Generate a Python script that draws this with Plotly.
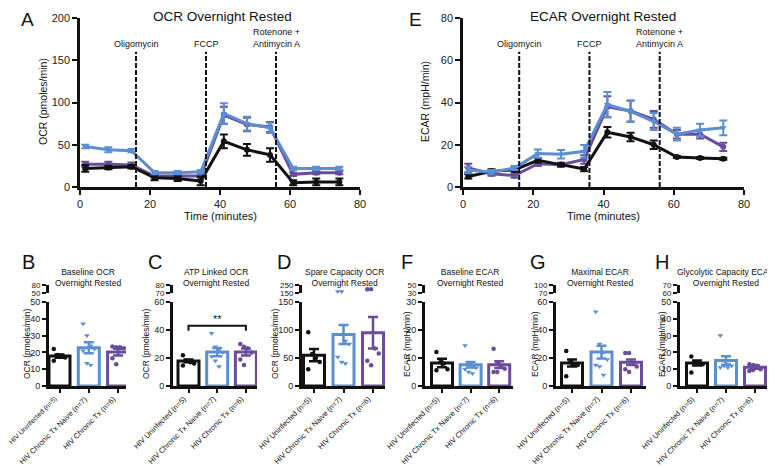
import plotly.graph_objects as go

# ---------------- data ----------------
groups = ["HIV Uninfected (n=5)", "HIV Chronic Tx Naive (n=7)", "HIV Chronic Tx (n=6)"]
group_colors = ["#111111", "#5b8fd3", "#6a4c9c"]
group_symbols = ["circle", "triangle-down", "circle"]

time_min = [1.5, 8.1, 14.7, 21.3, 27.9, 34.5, 41.1, 47.7, 54.3, 60.9, 67.5, 74.1]
injection_times = [16, 36, 56]
injection_labels = ["Oligomycin", "FCCP", "Rotenone +<br>Antimycin A"]

ocr_uninfected = [22, 23, 24, 11, 10, 7, 54, 44, 38, 5, 6, 6]
ocr_uninfected_sem = [4, 2, 2, 3, 3, 5, 8, 7, 8, 3, 4, 4]
ocr_naive = [48, 44, 43, 17, 17, 18, 87, 75, 70, 22, 22, 22]
ocr_naive_sem = [2, 3, 2, 2, 2, 2, 12, 8, 6, 2, 2, 2]
ocr_chronic = [27, 27, 26, 13, 13, 13, 85, 74, 71, 15, 17, 17]
ocr_chronic_sem = [3, 3, 3, 2, 2, 2, 10, 8, 6, 2, 2, 2]

ecar_uninfected = [5, 7.4, 8.2, 12.6, 10.6, 8.5, 25.9, 23.7, 20, 14.2, 13.7, 13.4]
ecar_uninfected_sem = [1, 1, 1, 1, 0.5, 1, 2.5, 2, 2, 0.5, 0.5, 0.5]
ecar_naive = [8, 7, 9, 15.8, 15.5, 16.9, 39, 35.8, 31, 25, 27, 28]
ecar_naive_sem = [1.5, 1, 1, 2, 2, 3, 6, 5, 4, 3, 3, 3.5]
ecar_chronic = [9, 6.3, 5.4, 11, 10.5, 13, 38, 36, 32, 25, 25, 19]
ecar_chronic_sem = [2, 1, 1, 1, 1, 2, 5, 5, 4, 2, 2, 2]

baseline_ocr_mean = [17.8, 22.8, 20.2]
baseline_ocr_sem = [1, 3.3, 2]
baseline_ocr_points = [[22, 18.5, 18, 17, 15], [37, 30, 24, 22, 21, 13.5, 12.5], [23.5, 23, 23, 22.5, 16.5, 13]]

atp_ocr_mean = [17.9, 24.2, 24.2]
atp_ocr_sem = [1, 3, 2.5]
atp_ocr_points = [[22, 18, 17, 16, 14.6], [37.6, 28, 26, 24, 21, 18, 14], [30, 28, 27, 24, 19, 15]]

spare_ocr_mean = [55, 92, 95]
spare_ocr_sem = [11, 17, 28]
spare_ocr_points = [[96, 57, 50, 43, 30], [168, 168, 81, 75, 52, 43, 40], [198, 198, 67, 58, 45, 37]]

baseline_ecar_mean = [8.2, 7.6, 7.6]
baseline_ecar_sem = [1.5, 1, 1.2]
baseline_ecar_points = [[12.1, 8.5, 8, 6, 5.6], [14.5, 8, 7, 6.5, 6, 5, 4.5], [13.3, 8, 7, 6.2, 5, 5]]

maximal_ecar_mean = [16.5, 24.2, 17]
maximal_ecar_sem = [2.5, 4.5, 2]
maximal_ecar_points = [[25, 17, 15, 15, 7], [53, 30, 24, 19, 15, 14, 7.8], [23.5, 23.5, 16, 14, 12, 10]]

glyco_ecar_mean = [13.7, 15.2, 11.2]
glyco_ecar_sem = [1.5, 2.5, 1]
glyco_ecar_points = [[17.5, 14, 13.5, 13, 8], [30, 15, 13, 12, 11, 12, 11], [13, 12.5, 12, 10, 9, 9.5]]

ticks_lower = {"B": [0, 10, 20, 30, 40, 50], "C": [0, 20, 40, 60], "D": [0, 50, 100, 150],
               "F": [0, 10, 20, 30], "G": [0, 20, 40, 60], "H": [0, 10, 20, 30, 40, 50]}
ticks_upper = {"B": [50, 80], "C": [70, 80], "D": [150, 250], "F": [30, 50], "G": [70, 100], "H": [60, 70]}

# ---------------- helpers ----------------
W, H = 775, 469
OFF = 8  # page body margin: figure is drawn 8px right/down in the window
FONT = "Arial, Liberation Sans, sans-serif"
INK = "#111111"


def fx(px):
    return (px - OFF) / W


def fy(py):
    return 1 - (py - OFF) / H


fig = go.Figure()
annotations = []
shapes = []
layout = dict(width=W, height=H, margin=dict(l=0, r=0, t=0, b=0, autoexpand=False),
              paper_bgcolor="white", plot_bgcolor="white", showlegend=False,
              barmode="overlay", font=dict(family=FONT, color=INK))


def text(x, y, s, size, xref="paper", yref="paper", xanchor="center", yanchor="middle", angle=0):
    annotations.append(dict(x=x, y=y, xref=xref, yref=yref, text=s, showarrow=False,
                            xanchor=xanchor, yanchor=yanchor, textangle=angle, borderpad=0,
                            font=dict(family=FONT, size=size, color=INK)))


def base_axis(**kw):
    d = dict(showgrid=False, zeroline=False, showline=True, linecolor=INK, ticks="outside",
             tickcolor=INK, automargin=False, tickfont=dict(family=FONT, size=11, color="#222"))
    d.update(kw)
    return d


# ---------------- top line panels ----------------
top_specs = [
    dict(letter="A", letter_px=(27, 8), title="OCR Overnight Rested", title_px=(222, 8.5),
         ytitle="OCR (pmoles/min)", ytitle_px=(43, 102), xpx=(80, 360), yrange=[0, 200], ydtick=50,
         series=[(ocr_chronic, ocr_chronic_sem, 2), (ocr_uninfected, ocr_uninfected_sem, 0),
                 (ocr_naive, ocr_naive_sem, 1)]),
    dict(letter="E", letter_px=(415, 8), title="ECAR Overnight Rested", title_px=(603, 8.5),
         ytitle="ECAR (mpH/min)", ytitle_px=(425, 102), xpx=(463, 744), yrange=[0, 80], ydtick=20,
         series=[(ecar_chronic, ecar_chronic_sem, 2), (ecar_uninfected, ecar_uninfected_sem, 0),
                 (ecar_naive, ecar_naive_sem, 1)]),
]

for i, sp in enumerate(top_specs):
    n = i + 1
    xk = "xaxis" if n == 1 else f"xaxis{n}"
    yk = "yaxis" if n == 1 else f"yaxis{n}"
    xr = "x" if n == 1 else f"x{n}"
    yr = "y" if n == 1 else f"y{n}"
    layout[xk] = base_axis(domain=[fx(sp["xpx"][0]), fx(sp["xpx"][1])], range=[0, 80], dtick=20,
                           anchor=yr, linewidth=2.5, ticklen=5, tickwidth=2)
    layout[yk] = base_axis(domain=[fy(187), fy(18)], range=sp["yrange"], dtick=sp["ydtick"],
                           anchor=xr, linewidth=2.5, ticklen=5, tickwidth=2)
    for vals, sem, g in sp["series"]:
        fig.add_trace(go.Scatter(
            x=time_min, y=vals, xaxis=xr, yaxis=yr, mode="lines+markers",
            line=dict(color=group_colors[g], width=3),
            marker=dict(color=group_colors[g], size=6, symbol=group_symbols[g]),
            error_y=dict(type="data", array=sem, color=group_colors[g], thickness=2, width=4)))
    for t, lab in zip(injection_times, injection_labels):
        shapes.append(dict(type="line", xref=xr, yref=f"{yr} domain", x0=t, x1=t, y0=0, y1=0.80,
                           line=dict(color=INK, width=2, dash="5px,2px")))
        text(t, 0.81, lab, 9, xref=xr, yref=f"{yr} domain", yanchor="bottom")
    text(fx(sp["title_px"][0]), fy(sp["title_px"][1]), sp["title"], 13.5, yanchor="top")
    text(fx(sp["letter_px"][0]), fy(sp["letter_px"][1]), sp["letter"], 19, yanchor="top")
    text(fx(sp["ytitle_px"][0]), fy(sp["ytitle_px"][1]), sp["ytitle"], 10.5, angle=-90)
    text(fx((sp["xpx"][0] + sp["xpx"][1]) / 2), fy(216), "Time (minutes)", 11)

# ---------------- bar panels ----------------
bar_specs = [
    dict(letter="B", title="Baseline OCR<br>Overnight Rested", ytitle="OCR (pmoles/min)",
         L=49, c0=59.5, sp=29.3, R=126, lower=[0, 50], upper=[50, 80], title_cx=88, ytitle_x=27,
         means=baseline_ocr_mean, sems=baseline_ocr_sem, points=baseline_ocr_points),
    dict(letter="C", title="ATP Linked OCR<br>Overnight Rested", ytitle="OCR (pmoles/min)",
         L=173, c0=188.5, sp=28.7, R=257, lower=[0, 60], upper=[70, 80], title_cx=216, ytitle_x=146,
         means=atp_ocr_mean, sems=atp_ocr_sem, points=atp_ocr_points),
    dict(letter="D", title="Spare Capacity OCR<br>Overnight Rested", ytitle="OCR (pmoles/min)",
         L=302, c0=314, sp=29.5, R=385, lower=[0, 150], upper=[150, 250], title_cx=344, ytitle_x=275,
         means=spare_ocr_mean, sems=spare_ocr_sem, points=spare_ocr_points),
    dict(letter="F", title="Baseline ECAR<br>Overnight Rested", ytitle="ECAR (mpH/min)",
         L=425, c0=442, sp=28.6, R=513, lower=[0, 30], upper=[30, 50], title_cx=470, ytitle_x=407,
         means=baseline_ecar_mean, sems=baseline_ecar_sem, points=baseline_ecar_points),
    dict(letter="G", title="Maximal ECAR<br>Overnight Rested", ytitle="ECAR (mpH/min)",
         L=556, c0=572, sp=29.5, R=646, lower=[0, 60], upper=[70, 100], title_cx=600, ytitle_x=535,
         means=maximal_ecar_mean, sems=maximal_ecar_sem, points=maximal_ecar_points),
    dict(letter="H", title="Glycolytic Capacity ECAR<br>Overnight Rested", ytitle="ECAR (mpH/min)",
         L=680, c0=697, sp=29, R=768, lower=[0, 50], upper=[60, 70], title_cx=726, ytitle_x=662,
         means=glyco_ecar_mean, sems=glyco_ecar_sem, points=glyco_ecar_points),
]

LOW_BOT, LOW_TOP, UP_BOT, UP_TOP = 386, 302, 293, 285

for k, sp in enumerate(bar_specs):
    xid, ylo, yup = 3 + k, 3 + k, 9 + k
    xr, ylr, yur = f"x{xid}", f"y{ylo}", f"y{yup}"
    r0 = -(sp["c0"] - sp["L"]) / sp["sp"]
    r1 = (sp["R"] - sp["c0"]) / sp["sp"]
    bw = 21 / sp["sp"]
    layout[f"xaxis{xid}"] = base_axis(domain=[fx(sp["L"]), fx(sp["R"])], range=[r0, r1],
                                      tickvals=[0, 1, 2], showticklabels=False,
                                      anchor=ylr, linewidth=3, ticklen=4, tickwidth=2)
    layout[f"yaxis{ylo}"] = base_axis(domain=[fy(LOW_BOT), fy(LOW_TOP)], range=sp["lower"],
                                      tickvals=ticks_lower[sp["letter"]],
                                      tickfont=dict(family=FONT, size=9, color="#222"),
                                      anchor=xr, linewidth=3, ticklen=4, tickwidth=2)
    layout[f"yaxis{yup}"] = base_axis(domain=[fy(UP_BOT), fy(UP_TOP)], range=sp["upper"],
                                      tickvals=ticks_upper[sp["letter"]],
                                      tickfont=dict(family=FONT, size=8, color="#222"),
                                      anchor=xr, linewidth=3, ticklen=4, tickwidth=2)
    # placeholder trace so the upper (broken) axis segment is drawn
    fig.add_trace(go.Scatter(x=[None], y=[None], xaxis=xr, yaxis=yur, mode="markers",
                             hoverinfo="skip"))
    for g in range(3):
        c = group_colors[g]
        fig.add_trace(go.Bar(x=[g], y=[sp["means"][g]], width=bw, xaxis=xr, yaxis=ylr,
                             marker=dict(color="white", line=dict(color=c, width=3)),
                             error_y=dict(type="data", array=[sp["sems"][g]], color=c,
                                          thickness=2.5, width=5)))
    for g in range(3):
        c = group_colors[g]
        lo_x, lo_y, up_x, up_y = [], [], [], []
        for i, v in enumerate(sp["points"][g]):
            off = ((i % 4) - 1.5) * 0.13
            if v > sp["lower"][1]:
                up_x.append(g + off)
                up_y.append(v)
            else:
                lo_x.append(g + off)
                lo_y.append(v)
        msize = 5 if group_symbols[g] == "triangle-down" else 4.5
        fig.add_trace(go.Scatter(x=lo_x, y=lo_y, xaxis=xr, yaxis=ylr, mode="markers",
                                 marker=dict(color=c, size=msize, symbol=group_symbols[g])))
        if up_y:
            fig.add_trace(go.Scatter(x=up_x, y=up_y, xaxis=xr, yaxis=yur, mode="markers",
                                     marker=dict(color=c, size=msize, symbol=group_symbols[g]),
                                     cliponaxis=False))
        # rotated category label ending at the tick (first label of the leftmost panel is
        # slightly smaller so that it stays inside the page)
        tick_px = sp["c0"] + g * sp["sp"]
        lab_size = 6.9 if (k == 0 and g == 0) else 7.5
        text(fx(tick_px + 1.5), fy(393), groups[g], lab_size, xanchor="right", yanchor="top", angle=-45)
    text(fx(sp["title_cx"]), fy(277), sp["title"], 8.5)
    text(fx(sp["ytitle_x"]), fy((LOW_BOT + LOW_TOP) / 2), sp["ytitle"], 8.5, angle=-90)
    text(fx(sp["L"] - 21 if sp["letter"] == "B" else sp["L"] - 18), fy(262), sp["letter"], 20)
    if sp["letter"] == "C":
        shapes.append(dict(type="path", xref=xr, yref=ylr, path="M 0,39.5 L 0,43 L 2,43 L 2,39.5",
                           line=dict(color=INK, width=2)))
        text(1, 43, "**", 11, xref=xr, yref=ylr, yanchor="bottom")

layout["annotations"] = annotations
layout["shapes"] = shapes
fig.update_layout(**layout)
fig.write_html("out.html")
